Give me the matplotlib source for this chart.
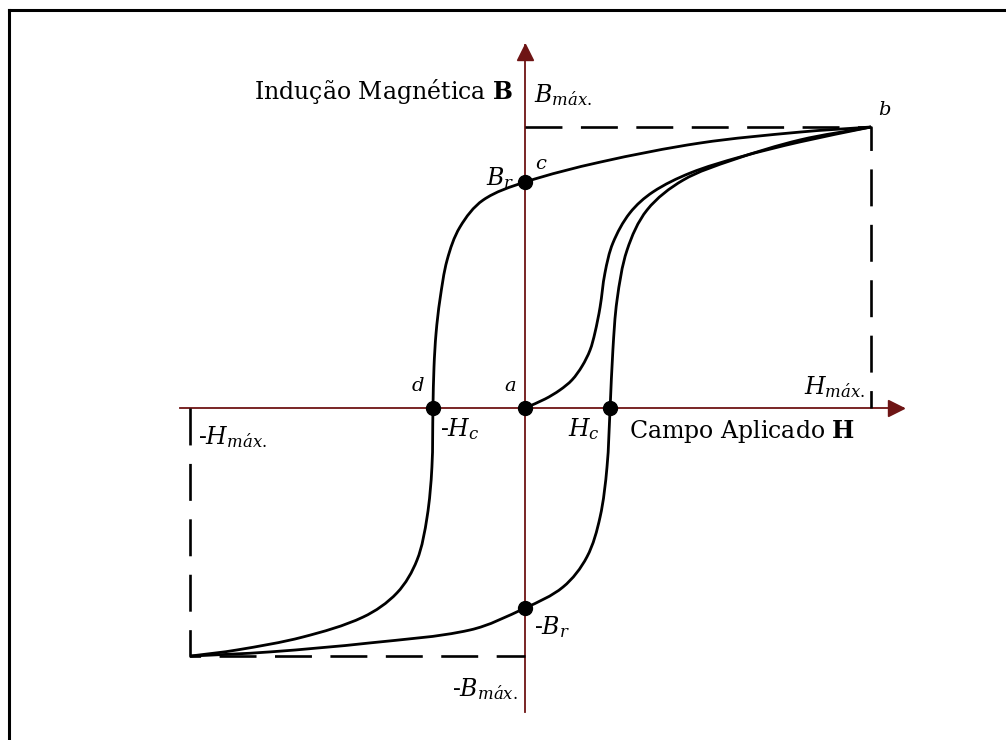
import numpy as np
import matplotlib.pyplot as plt
from matplotlib.path import Path
from matplotlib.patches import PathPatch
from matplotlib.lines import Line2D

plt.rcParams['mathtext.fontset'] = 'dejavuserif'
plt.rcParams['font.family'] = 'DejaVu Serif'

# H normalised to H_max, B normalised to B_max
H_max, B_max = 1.0, 1.0
H_min, B_min = -0.968, -0.883

# descending branch: b -> c -> d -> (-H_max, -B_max)
H_down = [1.0, 0.795, 0.506, 0.217, 0.0, -0.121, -0.188, -0.225, -0.246, -0.257,
          -0.263, -0.266, -0.269, -0.283, -0.312, -0.370, -0.468, -0.642, -0.832, -0.968]
B_down = [1.0, 0.982, 0.943, 0.875, 0.804, 0.740, 0.644, 0.527, 0.384, 0.267,
          0.146, 0.0, -0.210, -0.388, -0.541, -0.658, -0.744, -0.815, -0.861, -0.883]

# ascending branch: (-H_max, -B_max) -> -Br -> Hc -> b
H_up = [-0.968, -0.737, -0.448, -0.159, 0.0, 0.110, 0.179, 0.217, 0.237, 0.246,
        0.254, 0.266, 0.295, 0.353, 0.457, 0.601, 0.795, 1.0]
B_up = [-0.883, -0.868, -0.836, -0.790, -0.712, -0.637, -0.530, -0.388, -0.210, 0.0,
        0.206, 0.384, 0.562, 0.705, 0.811, 0.883, 0.954, 1.0]

# first magnetisation curve a -> b
H_init = [0.0, 0.058, 0.101, 0.136, 0.165, 0.188, 0.202, 0.217, 0.231, 0.254,
          0.303, 0.370, 0.477, 0.621, 0.795, 1.0]
B_init = [0.0, 0.032, 0.064, 0.100, 0.149, 0.206, 0.267, 0.359, 0.480, 0.587,
          0.694, 0.769, 0.836, 0.893, 0.947, 1.0]

# marked points: c (Br), d (-Hc), a, Hc, -Br
pt_H = [0.0, -0.266, 0.0, 0.246, 0.0]
pt_B = [0.804, 0.0, 0.0, 0.0, -0.712]

# extent of the drawn axes
h_axis = (-0.997, 1.092)
b_axis = (-1.082, 1.292)

# pixels per unit on each axis, used to keep the curve smoothing isotropic
SX, SY = 346.0, 281.0


def smooth_path(xs, ys):
    # smooth curve through the points as cubic Bezier segments,
    # tangents from neighbours, handle length a third of each chord
    p = np.column_stack([np.asarray(xs) * SX, np.asarray(ys) * SY])
    n = len(p)
    tang = np.zeros_like(p)
    for i in range(n):
        a = p[max(i - 1, 0)]
        b = p[min(i + 1, n - 1)]
        d = b - a
        tang[i] = d / np.hypot(*d)
    verts = [p[0]]
    codes = [Path.MOVETO]
    for i in range(n - 1):
        L = np.hypot(*(p[i + 1] - p[i]))
        verts += [p[i] + tang[i] * L / 3, p[i + 1] - tang[i + 1] * L / 3, p[i + 1]]
        codes += [Path.CURVE4] * 3
    verts = np.array(verts) / [SX, SY]
    return Path(verts, codes)


fig = plt.figure(figsize=(10.06, 7.40), dpi=100)
ax = fig.add_axes([0, 0, 1, 1])
ax.set_xlim(-525 / SX, 481 / SX)
ax.set_ylim(-332 / SY, 408 / SY)
ax.axis('off')

# frame
fig.add_artist(Line2D([9 / 1006, 9 / 1006], [0, 1 - 10 / 740], color='black', lw=2.2))
fig.add_artist(Line2D([9 / 1006, 1], [1 - 10 / 740, 1 - 10 / 740], color='black', lw=2.2))

axis_col = '#6e1414'
ax.plot(h_axis, [0, 0], color=axis_col, lw=1.3, zorder=2)
ax.plot([0, 0], b_axis, color=axis_col, lw=1.3, zorder=2)
ax.plot(h_axis[1] - 0.02, 0, marker='>', ms=12, color=axis_col, zorder=3)
ax.plot(0, b_axis[1] - 0.025, marker='^', ms=12, color=axis_col, zorder=3)

dash = (0, (14, 7))
ax.plot([0, H_max, H_max], [B_max, B_max, 0], color='black', lw=1.9, ls=dash)
ax.plot([H_min, H_min, 0], [0, B_min, B_min], color='black', lw=1.9, ls=dash)

for hs, bs in [(H_down, B_down), (H_up, B_up), (H_init, B_init)]:
    ax.add_patch(PathPatch(smooth_path(hs, bs), fill=False, edgecolor='black',
                           lw=2.0, zorder=4))

ax.plot(pt_H, pt_B, 'o', color='black', ms=10, zorder=5)

fs = 17
ax.text(-0.035, 1.125, r'Indução Magnética $\mathbf{B}$', fontsize=fs,
        ha='right', va='center')
ax.text(0.025, 1.115, r'$B_{m\acute{a}x.}$', fontsize=fs, ha='left', va='center')
ax.text(1.02, 1.06, r'$b$', fontsize=14, ha='left', va='center')
ax.text(0.03, 0.87, r'$c$', fontsize=14, ha='left', va='center')
ax.text(-0.03, 0.82, r'$B_r$', fontsize=fs, ha='right', va='center')
ax.text(-0.29, 0.045, r'$d$', fontsize=14, ha='right', va='bottom')
ax.text(-0.025, 0.045, r'$a$', fontsize=14, ha='right', va='bottom')
ax.text(-0.245, -0.075, r'-$H_c$', fontsize=fs, ha='left', va='center')
ax.text(0.215, -0.075, r'$H_c$', fontsize=fs, ha='right', va='center')
ax.text(0.3, -0.085, r'Campo Aplicado $\mathbf{H}$', fontsize=fs,
        ha='left', va='center')
ax.text(0.985, 0.075, r'$H_{m\acute{a}x.}$', fontsize=fs, ha='right', va='center')
ax.text(-0.945, -0.105, r'-$H_{m\acute{a}x.}$', fontsize=fs, ha='left', va='center')
ax.text(0.025, -0.78, r'-$B_r$', fontsize=fs, ha='left', va='center')
ax.text(-0.02, -1.0, r'-$B_{m\acute{a}x.}$', fontsize=fs, ha='right', va='center')

fig.savefig('out.png', dpi=100)
